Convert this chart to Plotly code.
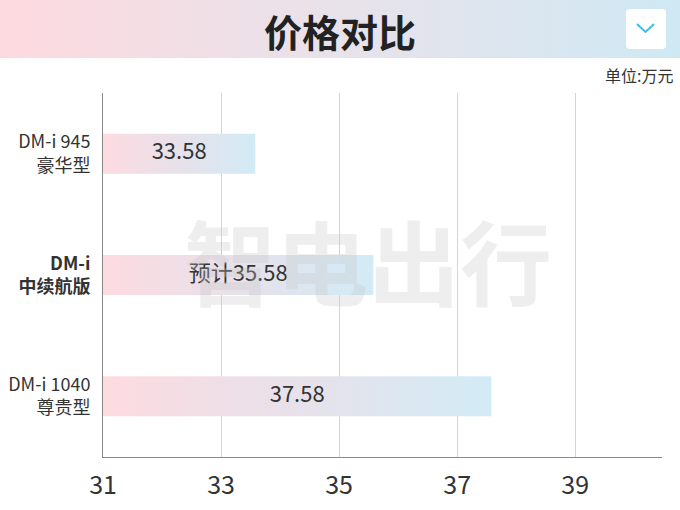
import plotly.graph_objects as go

categories = ["DM-i 945<br>豪华型", "<b>DM-i</b><br><b>中续航版</b>", "DM-i 1040<br>尊贵型"]
prices = [33.58, 35.58, 37.58]
bar_labels = ["33.58", "预计35.58", "37.58"]
x_ticks = [31, 33, 35, 37, 39]
x_base = 31
x_max = 40.47

W, H = 680, 510
L, R, T, B = 103, 662, 93, 457
FONT = "Noto Sans CJK SC"
BAR_SCALE = [[0, "#fddbe1"], [0.5, "#e7e1ea"], [1, "#d2ebf6"]]
BANNER_SCALE = [[0, "#fdd9df"], [0.5, "#e8e2ea"], [1, "#cfe9f4"]]

fig = go.Figure()

half = 0.165
for i, (v, lab) in enumerate(zip(prices, bar_labels)):
    fig.add_trace(go.Scatter(
        x=[x_base, v, v, x_base, x_base],
        y=[i - half, i - half, i + half, i + half, i - half],
        mode="lines", fill="toself", line=dict(width=0),
        fillgradient=dict(type="horizontal", colorscale=BAR_SCALE),
        hoverinfo="skip", showlegend=False, xaxis="x", yaxis="y"))
    fig.add_trace(go.Scatter(
        x=[(x_base + v) / 2], y=[i], mode="text", text=[lab],
        textfont=dict(family=FONT, size=22, color="#333333"),
        showlegend=False, xaxis="x", yaxis="y"))

# banner
fig.add_trace(go.Scatter(
    x=[0, 1, 1, 0, 0], y=[0, 0, 1, 1, 0], mode="lines", fill="toself",
    line=dict(width=0), fillgradient=dict(type="horizontal", colorscale=BANNER_SCALE),
    hoverinfo="skip", showlegend=False, xaxis="x2", yaxis="y2"))

fig.update_layout(
    width=W, height=H,
    margin=dict(l=0, r=0, t=0, b=0, pad=0, autoexpand=False),
    paper_bgcolor="white", plot_bgcolor="white",
    xaxis=dict(domain=[L / W, R / W], range=[x_base, x_max], tickvals=x_ticks,
               showgrid=True, gridcolor="#d4d4d4", gridwidth=1, automargin=False,
               showline=True, linecolor="#888888", linewidth=1, zeroline=False,
               ticks="", ticklabelstandoff=6,
               tickfont=dict(family=FONT, size=25, color="#333333")),
    yaxis=dict(domain=[(H - B) / H, (H - T) / H], range=[2.5, -0.5],
               tickvals=[0, 1, 2], ticktext=categories, automargin=False,
               showgrid=False, showline=True, linecolor="#888888", linewidth=1,
               zeroline=False, ticks="", ticklabelstandoff=8,
               tickfont=dict(family=FONT, size=18, color="#333333")),
    xaxis2=dict(domain=[0, 1], range=[0, 1], visible=False, fixedrange=True, automargin=False),
    yaxis2=dict(domain=[1 - 58 / H, 1], range=[0, 1], visible=False, fixedrange=True, automargin=False),
    annotations=[
        dict(text="<b>价格对比</b>", x=0.5, y=1 - 30 / H, xref="paper", yref="paper",
             xanchor="center", yanchor="middle",
             showarrow=False, font=dict(family=FONT, size=38, color="#222222")),
        dict(text="单位:万元", x=675 / W, y=1 - 75 / H, xref="paper", yref="paper",
             xanchor="right", yanchor="middle", showarrow=False,
             font=dict(family=FONT, size=16, color="#333333")),
        dict(text="<b>智电出行</b>", x=368 / W, y=1 - 258 / H, xref="paper", yref="paper",
             xanchor="center", yanchor="middle",
             showarrow=False, font=dict(family=FONT, size=92, color="rgba(200,200,200,0.30)")),
    ],
    shapes=[
        dict(type="path", xref="paper", yref="paper",
             path=f"M {630/W} {1-9/H} L {662/W} {1-9/H} Q {666/W} {1-9/H} {666/W} {1-13/H} "
                  f"L {666/W} {1-45/H} Q {666/W} {1-49/H} {662/W} {1-49/H} "
                  f"L {630/W} {1-49/H} Q {626/W} {1-49/H} {626/W} {1-45/H} "
                  f"L {626/W} {1-13/H} Q {626/W} {1-9/H} {630/W} {1-9/H} Z",
             fillcolor="white", line=dict(width=0)),
        dict(type="path", xref="paper", yref="paper",
             path=f"M {637/W} {1-24/H} L {645.5/W} {1-32/H} L {654/W} {1-24/H}",
             line=dict(color="#3fbfe0", width=2)),
    ],
)

fig.write_html("out.html", config={"displayModeBar": False},
               post_script="document.body.style.margin='0';")
